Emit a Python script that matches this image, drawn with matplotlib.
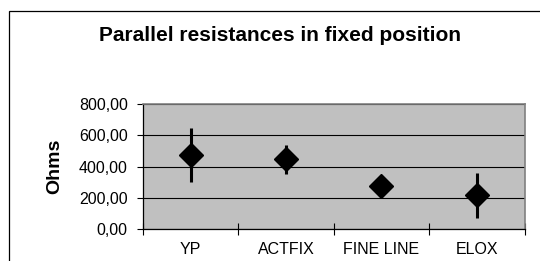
import numpy as np
import matplotlib.pyplot as plt
from matplotlib.patches import Rectangle

plt.rcParams["font.family"] = ["Liberation Sans", "DejaVu Sans"]

# Werte
categories = ["YP", "ACTFIX", "FINE LINE", "ELOX"]
mean_ohms = [473, 447, 279, 215]
err_ohms = [173, 93, 25, 142]
y_ticks = [0, 200, 400, 600, 800]

fig = plt.figure(figsize=(5.4, 2.61), dpi=100)

# Rahmen um das ganze Diagramm (geht rechts/unten über den Rand hinaus)
frame = Rectangle((8.5 / 540, -0.2), 1.2, 0.2 + (1 - 11 / 261), transform=fig.transFigure,
                  fill=False, edgecolor="black", lw=0.9)
fig.patches.append(frame)

ax = fig.add_axes([143 / 540, 1 - 229 / 261, 381.5 / 540, 124.7 / 261])
ax.set_facecolor("#c0c0c0")

x = np.arange(len(categories))
ax.errorbar(x, mean_ohms, yerr=err_ohms, fmt="none", ecolor="black", elinewidth=2.2, capsize=0, zorder=3)
ax.plot(x, mean_ohms, ls="none", marker="D", ms=12, color="black", zorder=4)

ax.set_xlim(-0.5, len(categories) - 0.5)
ax.set_ylim(0, 800)
ax.set_yticks(y_ticks)
ax.set_yticklabels([f"{v:.2f}".replace(".", ",") for v in y_ticks], fontsize=11.5)
ax.tick_params(axis="y", direction="out", length=4, width=0.8, pad=7)

ax.set_xticks(np.arange(-0.5, len(categories), 1.0))
ax.set_xticklabels([])
ax.tick_params(axis="x", which="major", direction="inout", length=8, width=0.8)
ax.set_xticks(x, minor=True)
ax.set_xticklabels(categories, minor=True, fontsize=11.5)
ax.tick_params(axis="x", which="minor", length=0, pad=9)

ax.grid(axis="y", color="black", lw=0.8)
ax.set_axisbelow(True)
for side in ["top", "right"]:
    ax.spines[side].set_color("#808080")
    ax.spines[side].set_linewidth(1.2)
for side in ["left", "bottom"]:
    ax.spines[side].set_linewidth(0.9)

fig.text(54.5 / 540, 1 - 166 / 261, "Ohms", rotation=90, ha="center", va="center",
         fontsize=14, fontweight="bold")
fig.text(280 / 540, 1 - 41 / 261, "Parallel resistances in fixed position", ha="center", va="baseline",
         fontsize=15, fontweight="bold")

fig.savefig("out.png", dpi=100)
